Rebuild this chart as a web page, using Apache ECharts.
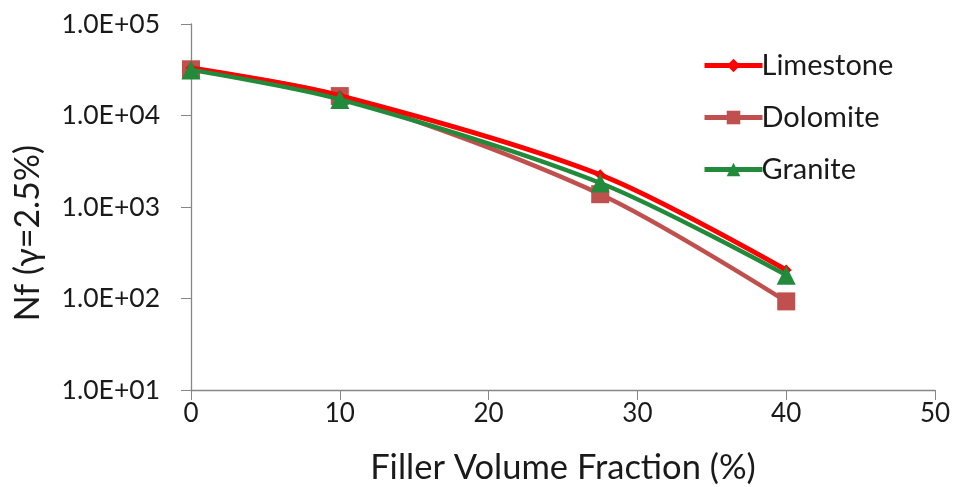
<!DOCTYPE html>
<html><head><meta charset="utf-8">
<script src="https://cdn.jsdelivr.net/npm/echarts@6/dist/echarts.min.js"></script>
<style>html,body{margin:0;padding:0;background:#fff}#c{width:956px;height:487px}</style>
</head><body><div id="c"></div>
<script>
const xValues = [0, 10, 27.5, 40];
const limestone = [33000, 16500, 2250, 205];
const dolomite = [32000, 16300, 1380, 93];
const granite = [31500, 15000, 1830, 180];
const seriesNames = ['Limestone', 'Dolomite', 'Granite'];
const xTicks = [0, 10, 20, 30, 40, 50];

const FONT = 'Lato, "Open Sans", sans-serif';
const TXT = '#1a1a1a';
const chart = echarts.init(document.getElementById('c'));
const pair = a => xValues.map((x, i) => [x, a[i]]);
chart.setOption({
  animation: false,
  backgroundColor: '#fff',
  grid: { left: 191, right: 21, top: 24, bottom: 97, outerBoundsMode: 'none', containLabel: false },
  legend: {
    orient: 'vertical', left: 697, top: 46, itemGap: 23,
    itemWidth: 58, itemHeight: 17,
    lineStyle: { width: 5 },
    textStyle: { fontSize: 29, fontFamily: FONT, color: TXT, padding: [0, 0, 0, -6] },
    data: seriesNames
  },
  xAxis: {
    type: 'value', min: 0, max: 50, interval: 10,
    name: 'Filler Volume Fraction (%)', nameLocation: 'middle', nameGap: 60,
    nameTextStyle: { fontSize: 34.5, fontFamily: FONT, color: TXT },
    axisLine: { lineStyle: { color: '#868686', width: 1.3 } },
    axisTick: { show: true, length: 10, lineStyle: { color: '#868686' } },
    axisLabel: { fontSize: 26, fontFamily: FONT, color: TXT, margin: 11,
      formatter: v => xTicks.includes(v) ? String(v) : '' },
    splitLine: { show: false }
  },
  yAxis: {
    type: 'log', logBase: 10, min: 10, max: 100000,
    name: 'Nf (γ=2.5%)', nameLocation: 'middle', nameGap: 146, nameRotate: 90,
    nameTextStyle: { fontSize: 34, fontFamily: FONT, color: TXT, padding: [0, 52, 0, 0] },
    axisLine: { show: true, lineStyle: { color: '#868686', width: 1.3 } },
    axisTick: { show: true, length: 10, lineStyle: { color: '#868686' } },
    axisLabel: { fontSize: 26.5, fontFamily: FONT, color: TXT, margin: 31,
      formatter: v => { const e = Math.round(Math.log10(v)); return '1.0E+' + (e < 10 ? '0' + e : e); } },
    splitLine: { show: false }
  },
  series: [
    { name: 'Limestone', type: 'line', smooth: 0.3, data: pair(limestone),
      symbol: 'diamond', symbolSize: 11, z: 3,
      lineStyle: { color: '#FF0000', width: 5 }, itemStyle: { color: '#FF0000' } },
    { name: 'Dolomite', type: 'line', smooth: 0.3, data: pair(dolomite),
      symbol: 'rect', symbolSize: 18, z: 2,
      lineStyle: { color: '#C0504D', width: 4.5 }, itemStyle: { color: '#C0504D' } },
    { name: 'Granite', type: 'line', smooth: 0.3, data: pair(granite),
      symbol: 'triangle', symbolSize: 19, z: 4,
      lineStyle: { color: '#228B3B', width: 4.5 }, itemStyle: { color: '#228B3B' } }
  ]
});
</script></body></html>
